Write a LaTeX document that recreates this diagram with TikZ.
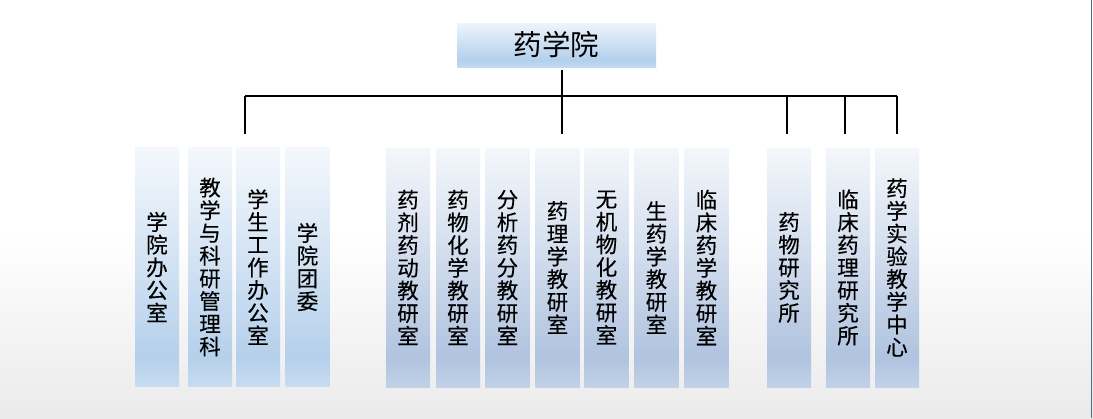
\documentclass[tikz,border=0pt]{standalone}
\usepackage{fontspec}
\newfontfamily\cjk{Noto Sans CJK SC}
\newfontfamily\cjkm[FakeBold=0.3]{Noto Sans CJK SC}
\usetikzlibrary{calc}
\definecolor{topA}{HTML}{F4F8FC}
\definecolor{midA}{HTML}{B5D0EB}
\definecolor{botA}{HTML}{C8DCF1}
\definecolor{topB}{HTML}{F4F7FB}
\definecolor{midB}{HTML}{B0C3DF}
\definecolor{botB}{HTML}{C2D1E8}
\definecolor{topT}{HTML}{EEF4FB}
\definecolor{midT}{HTML}{B3D0EC}
\definecolor{botT}{HTML}{C2D9F0}
\definecolor{edge}{HTML}{4D6B8F}
\pgfdeclareverticalshading{shadeA}{100bp}{color(0bp)=(botA); color(25bp)=(botA); color(31bp)=(midA); color(75bp)=(topA); color(100bp)=(topA)}
\pgfdeclareverticalshading{shadeB}{100bp}{color(0bp)=(botB); color(25bp)=(botB); color(31bp)=(midB); color(75bp)=(topB); color(100bp)=(topB)}
\pgfdeclareverticalshading{shadeT}{100bp}{color(0bp)=(botT); color(25bp)=(botT); color(33bp)=(midT); color(75bp)=(topT); color(100bp)=(topT)}
\begin{document}
\begin{tikzpicture}[x=1pt,y=-1pt,
  colbox/.style={shading=#1, minimum width=44pt, minimum height=239pt, inner sep=0pt,
     align=center, font=\cjkm\fontsize{21.5}{22.7}\selectfont, text=black},
  colA/.style={colbox=shadeA},
  colB/.style={colbox=shadeB},
  topbox/.style={shading=shadeT, minimum width=199pt, minimum height=44pt, inner sep=0pt,
     font=\cjk\fontsize{28.5}{30}\selectfont, text=black},
  conn/.style={line width=2pt, black}
]
\useasboundingbox (0,0) rectangle (1093,418);
\fill[white] (0,0) rectangle (1093,418);
\shade[top color=white, bottom color=black!8] (0,230) rectangle (1093,418);
\draw[edge, line width=1.3pt] (1091.5,0) -- (1091.5,418);

\node[topbox] (top) at (556.5,45) {药学院};

% left group
\node[colA] (a1) at (157,267) {学\\院\\办\\公\\室};
\node[colA] (a2) at (210,267) {教\\学\\与\\科\\研\\管\\理\\科};
\node[colA] (a3) at (258,267) {学\\生\\工\\作\\办\\公\\室};
\node[colA] (a4) at (307.5,267) {学\\院\\团\\委};
% middle group
\node[colB] (b1) at (408,267.5) {药\\剂\\药\\动\\教\\研\\室};
\node[colB] (b2) at (458,267.5) {药\\物\\化\\学\\教\\研\\室};
\node[colB] (b3) at (507.5,267.5) {分\\析\\药\\分\\教\\研\\室};
\node[colB] (b4) at (557.5,267.5) {药\\理\\学\\教\\研\\室};
\node[colB] (b5) at (606.5,267.5) {无\\机\\物\\化\\教\\研\\室};
\node[colB] (b6) at (656.5,267.5) {生\\药\\学\\教\\研\\室};
\node[colB] (b7) at (706.5,267.5) {临\\床\\药\\学\\教\\研\\室};
% right group
\node[colB] (c1) at (789,267.5) {药\\物\\研\\究\\所};
\node[colB] (c2) at (848,267.5) {临\\床\\药\\理\\研\\究\\所};
\node[colB] (c3) at (897,267.5) {药\\学\\实\\验\\教\\学\\中\\心};

% connectors
\coordinate (hl) at (245,96);
\coordinate (hr) at (897,96);
\coordinate (hm) at (562,96);
\coordinate (t0) at (562,70);
\draw[conn] (hl) -- (hr);
\draw[conn] (t0) -- (562,134);
\draw[conn] (hl) -- (245,134);
\draw[conn] (787,96) -- (787,134);
\draw[conn] (845,96) -- (845,134);
\draw[conn] (hr) -- (897,134);
\end{tikzpicture}
\end{document}
